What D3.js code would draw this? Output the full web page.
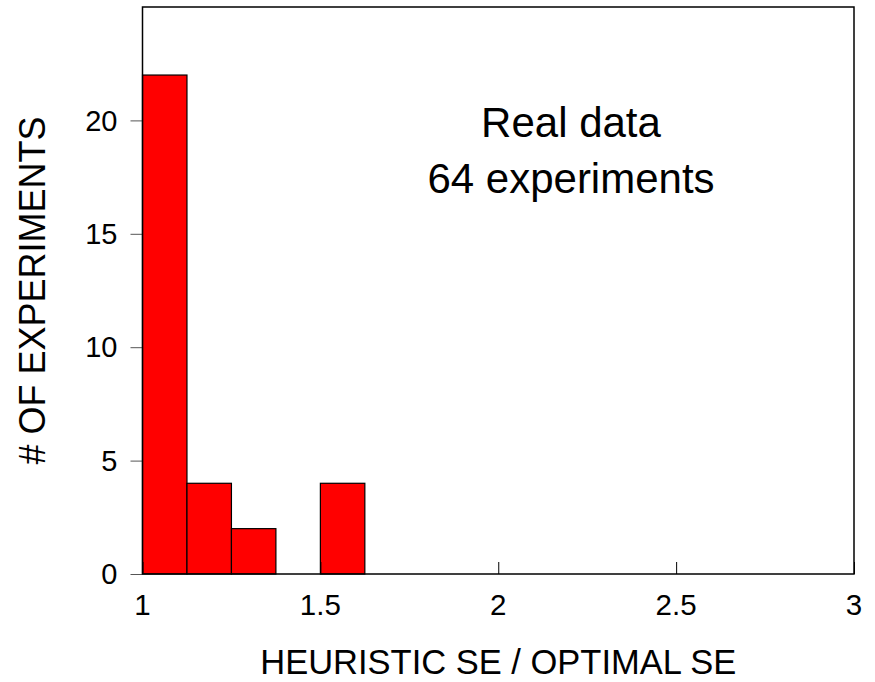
<!DOCTYPE html>
<html>
<head>
<meta charset="utf-8">
<script src="https://cdn.jsdelivr.net/npm/d3@7"></script>
<style>
  body { margin: 0; background: #fff; }
  text { font-family: "Liberation Sans", Arial, sans-serif; fill: #000; }
</style>
</head>
<body>
<div id="vizDiv"></div>
<script>
var width = 875
var height = 682

// histogram data
var binStarts = [1, 1.125, 1.25, 1.375, 1.5]
var binWidth = 0.125
var counts = [22, 4, 2, 0, 4]

var xTicks = [1, 1.5, 2, 2.5, 3]
var xTickLabels = ["1", "1.5", "2", "2.5", "3"]
var yTicks = [0, 5, 10, 15, 20]
var yTickLabels = ["0", "5", "10", "15", "20"]

var xTitle = "HEURISTIC SE / OPTIMAL SE"
var yTitle = "# OF EXPERIMENTS"
var noteLines = ["Real data", "64 experiments"]

var plotLeft = 142.5
var plotRight = 854
var plotTop = 7
var plotBottom = 574

var svg = d3.select("#vizDiv")
  .append("svg")
  .attr("width", width)
  .attr("height", height)

var x = d3.scaleLinear().domain([1, 3]).range([plotLeft, plotRight])
var y = d3.scaleLinear().domain([0, 25]).range([plotBottom, plotTop])

// bars
svg.selectAll("rect.bar")
  .data(counts.map(function(c, i) { return {x0: binStarts[i], x1: binStarts[i] + binWidth, n: c} }))
  .enter()
  .filter(function(d) { return d.n > 0 })
  .append("rect")
  .attr("class", "bar")
  .attr("x", function(d) { return x(d.x0) })
  .attr("y", function(d) { return y(d.n) })
  .attr("width", function(d) { return x(d.x1) - x(d.x0) })
  .attr("height", function(d) { return y(0) - y(d.n) })
  .attr("fill", "#ff0000")
  .attr("stroke", "#000")
  .attr("stroke-width", 1.2)

// y ticks (outside)
svg.append("g")
  .attr("transform", "translate(" + plotLeft + ",0)")
  .call(d3.axisLeft(y).tickValues(yTicks).tickSize(12).tickFormat(""))
  .call(function(g) { g.select(".domain").remove() })
  .selectAll("line").attr("stroke", "#555")

// x ticks (inside)
svg.append("g")
  .attr("transform", "translate(0," + plotBottom + ")")
  .call(d3.axisBottom(x).tickValues(xTicks).tickSize(-12).tickFormat(""))
  .call(function(g) { g.select(".domain").remove() })
  .selectAll("line").attr("stroke", "#000")

// frame
svg.append("rect")
  .attr("x", plotLeft)
  .attr("y", plotTop)
  .attr("width", plotRight - plotLeft)
  .attr("height", plotBottom - plotTop)
  .attr("fill", "none")
  .attr("stroke", "#000")
  .attr("stroke-width", 1.5)

// tick labels
svg.selectAll("text.ylab")
  .data(yTicks)
  .enter()
  .append("text")
  .attr("class", "ylab")
  .attr("x", plotLeft - 25)
  .attr("y", function(d) { return y(d) })
  .attr("dy", "0.35em")
  .attr("text-anchor", "end")
  .style("font-size", "29px")
  .text(function(d, i) { return yTickLabels[i] })

svg.selectAll("text.xlab")
  .data(xTicks)
  .enter()
  .append("text")
  .attr("class", "xlab")
  .attr("x", function(d) { return x(d) })
  .attr("y", 615)
  .attr("text-anchor", "middle")
  .style("font-size", "29.5px")
  .text(function(d, i) { return xTickLabels[i] })

// axis titles
svg.append("text")
  .attr("x", (plotLeft + plotRight) / 2)
  .attr("y", 674)
  .attr("text-anchor", "middle")
  .style("font-size", "34.5px")
  .text(xTitle)

svg.append("text")
  .attr("transform", "translate(45," + (plotTop + plotBottom) / 2 + ") rotate(-90)")
  .attr("text-anchor", "middle")
  .style("font-size", "36px")
  .text(yTitle)

// annotation
svg.selectAll("text.note")
  .data(noteLines)
  .enter()
  .append("text")
  .attr("class", "note")
  .attr("x", 571)
  .attr("y", function(d, i) { return 137 + i * 56 })
  .attr("text-anchor", "middle")
  .style("font-size", "42px")
  .text(function(d) { return d })
</script>
</body>
</html>
